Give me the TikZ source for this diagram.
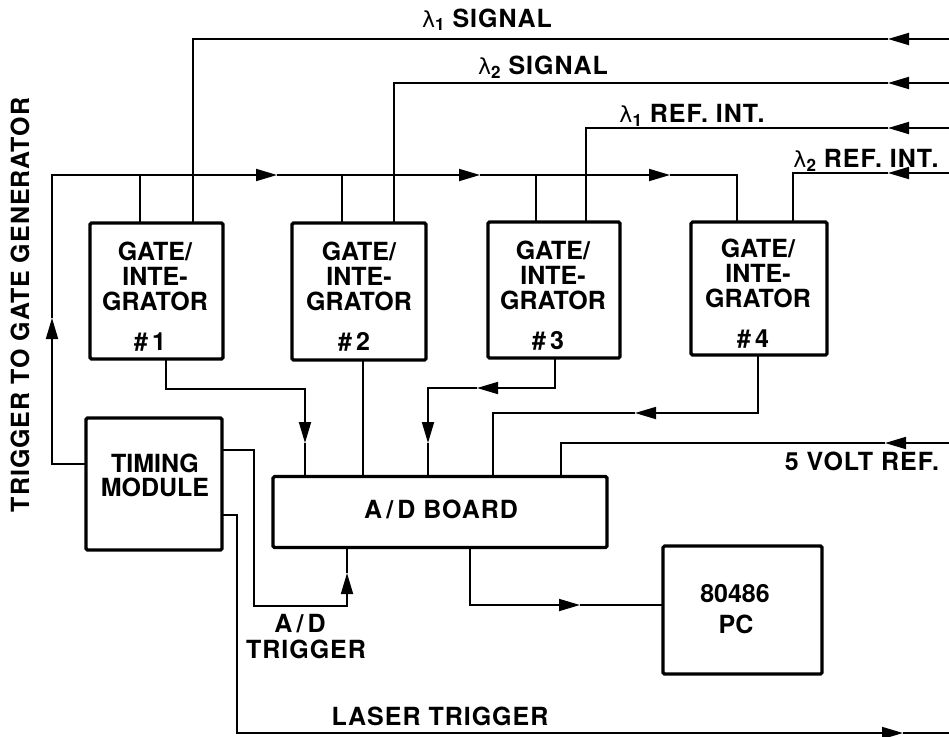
\documentclass[tikz,border=0pt]{standalone}
\usepackage{fontspec}
\setmainfont{TeX Gyre Heros}
\newfontfamily\gkfont{DejaVu Sans}
\newcommand{\lam}[1]{{\gkfont\mdseries\fontsize{22}{22}\selectfont λ}\raisebox{-4pt}{\fontsize{17}{17}\selectfont\bfseries #1}}
\usetikzlibrary{arrows.meta}
\begin{document}
\begin{tikzpicture}[x=1pt,y=-1pt,
  box/.style={draw, line width=3.2pt, rounded corners=1.5pt, inner sep=0pt},
  lbl/.style={font=\fontsize{25}{25}\selectfont\bfseries, inner sep=0pt, anchor=base},
  wlbl/.style={lbl, font=\fontsize{25}{25}\selectfont\bfseries\addfontfeature{LetterSpace=4}},
  wire/.style={line width=1.8pt},
  tip/.style={line width=1.8pt, -{Triangle[length=21pt,width=12pt]}}
]
\path[fill=white,use as bounding box] (0,0) rectangle (949,736);

% boxes
\node[box, minimum width=133pt, minimum height=136pt] (G1) at (156.5,291) {};
\node[box, minimum width=134pt, minimum height=137pt] (G2) at (359,291.5) {};
\node[box, minimum width=132pt, minimum height=136pt] (G3) at (554,290) {};
\node[box, minimum width=136pt, minimum height=133pt] (G4) at (759,288.5) {};
\node[box, minimum width=136pt, minimum height=132pt] (TM) at (154,484) {};
\node[box, minimum width=334pt, minimum height=71pt] (AD) at (440,512) {};
\node[box, minimum width=159pt, minimum height=128pt] (PC) at (742.5,610) {};

% box texts
\foreach \n/\cx/\dy in {1/155/0, 2/359/0, 3/553/-1, 4/758/-3}{
  \node[lbl] (G\n a) at (\cx,260+\dy) {GATE/};
  \node[lbl] (G\n b) at (\cx,285+\dy) {INTE-};
  \node[lbl] (G\n c) at (\cx,310+\dy) {GRATOR};
  \node[lbl] (G\n d) at (\cx-5,350+\dy) {\#\,\n};
}
\node[lbl] (TMa) at (155,472) {TIMING};
\node[lbl] (TMb) at (155,496) {MODULE};
\node[wlbl] (ADa) at (441,518) {A\,/\,D BOARD};
\node[lbl] (PCa) at (735,602) {80486};
\node[lbl] (PCb) at (736,633) {PC};

% labels
\node[wlbl] (L1) at (487,27) {\lam{1} SIGNAL};
\node[wlbl] (L2) at (543,74) {\lam{2} SIGNAL};
\node[wlbl] (L3) at (692,122) {\lam{1} REF. INT.};
\node[wlbl] (L4) at (866,167) {\lam{2} REF. INT.};
\node[wlbl] (L5) at (862,470) {5 VOLT REF.};
\node[wlbl] (L6) at (300,632) {A\,/\,D};
\node[wlbl] (L7) at (306,658) {TRIGGER};
\node[wlbl] (L8) at (440,725) {LASER TRIGGER};
\node[wlbl, anchor=center, rotate=90] (L9) at (20,305) {TRIGGER TO GATE GENERATOR};

% coordinates
\coordinate (s1in) at (949,39);  \coordinate (s1a) at (888,39);  \coordinate (g1s) at (193,223);
\coordinate (s2in) at (949,83);  \coordinate (s2a) at (888,83);  \coordinate (g2s) at (394,223);
\coordinate (r1in) at (949,128); \coordinate (r1a) at (888,128); \coordinate (g3s) at (586,222);
\coordinate (r2in) at (949,173); \coordinate (r2a) at (888,173); \coordinate (g4s) at (793,222);

\coordinate (tmw) at (86,464);
\coordinate (bA) at (52,318);
\coordinate (bB) at (277,175);
\coordinate (bC) at (480,175);
\coordinate (bD) at (670,175);
\coordinate (g4t) at (737,222);
\coordinate (tap1) at (140,175); \coordinate (g1t) at (140,223);
\coordinate (tap2) at (342,175); \coordinate (g2t) at (342,223);
\coordinate (tap3) at (536,175); \coordinate (g3t) at (536,222);

\coordinate (g1o) at (166,359); \coordinate (k1) at (305,389); \coordinate (a1) at (305,443); \coordinate (ad1) at (305,476);
\coordinate (g2o) at (363,360); \coordinate (ad2) at (363,476);
\coordinate (g3o) at (555,358); \coordinate (k3) at (477,388); \coordinate (k3b) at (428,388); \coordinate (a3) at (428,443); \coordinate (ad3) at (428,476);
\coordinate (g4o) at (758,355); \coordinate (k4) at (635,413); \coordinate (ad4) at (493,476);
\coordinate (v5in) at (949,443); \coordinate (v5a) at (885,443); \coordinate (ad5) at (561,476);

\coordinate (tmr1) at (222,450); \coordinate (k6) at (254,606); \coordinate (a6) at (347,573); \coordinate (adb1) at (347,548);
\coordinate (tmr2) at (222,515); \coordinate (k7) at (237,733); \coordinate (a7) at (903,733); \coordinate (lout) at (949,733);
\coordinate (adb2) at (470,548); \coordinate (a8) at (580,605); \coordinate (pcw) at (663,605);

% signal inputs
\draw[tip] (s1in) -- (s1a);  \draw[wire] (s1a) -| (g1s);
\draw[tip] (s2in) -- (s2a);  \draw[wire] (s2a) -| (g2s);
\draw[tip] (r1in) -- (r1a);  \draw[wire] (r1a) -| (g3s);
\draw[tip] (r2in) -- (r2a);  \draw[wire] (r2a) -| (g4s);

% trigger bus
\draw[tip] (tmw) -| (bA);
\draw[tip] (bA) |- (bB);
\draw[tip] (bB) -- (bC);
\draw[tip] (bC) -- (bD);
\draw[wire] (bD) -| (g4t);
\draw[wire] (tap1) -- (g1t);
\draw[wire] (tap2) -- (g2t);
\draw[wire] (tap3) -- (g3t);

% outputs to A/D
\draw[tip] (g1o) |- (k1) -- (a1); \draw[wire] (a1) -- (ad1);
\draw[wire] (g2o) -- (ad2);
\draw[tip] (g3o) |- (k3); \draw[tip] (k3) -- (k3b) -- (a3); \draw[wire] (a3) -- (ad3);
\draw[tip] (g4o) |- (k4); \draw[wire] (k4) -| (ad4);
\draw[tip] (v5in) -- (v5a); \draw[wire] (v5a) -| (ad5);

% timing outputs
\draw[tip] (tmr1) -| (k6) -| (a6); \draw[wire] (a6) -- (adb1);
\draw[tip] (tmr2) -| (k7) -- (a7); \draw[wire] (a7) -- (lout);
\draw[tip] (adb2) |- (a8); \draw[wire] (a8) -- (pcw);
\end{tikzpicture}
\end{document}
